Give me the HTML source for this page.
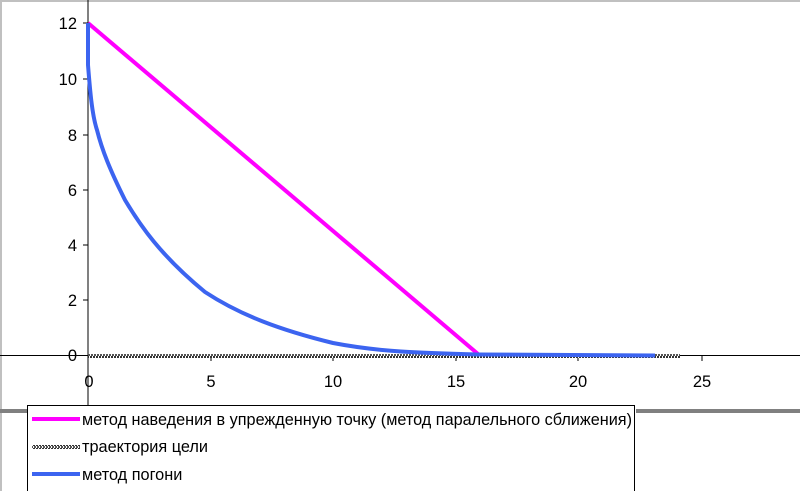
<!DOCTYPE html>
<html><head><meta charset="utf-8"><style>
body{margin:0;background:#fff}
svg{display:block;font-family:"Liberation Sans",Arial,sans-serif}
</style></head><body>
<svg width="800" height="491" viewBox="0 0 800 491">
<defs><pattern id="h" width="3" height="4" patternUnits="userSpaceOnUse"><rect width="3" height="4" fill="#fff"/><rect width="2" height="2" fill="#333"/><rect x="1" y="2" width="2" height="2" fill="#555"/></pattern></defs>
<rect x="0" y="0" width="800" height="491" fill="#fff"/>
<line x1="0" y1="1" x2="800" y2="1" stroke="#c0c0c0" stroke-width="2"/>
<line x1="1" y1="0" x2="1" y2="491" stroke="#c0c0c0" stroke-width="2"/>
<line x1="88" y1="0" x2="88" y2="408" stroke="#000" stroke-width="1"/>
<line x1="0" y1="355.5" x2="800" y2="355.5" stroke="#000" stroke-width="1"/>
<g stroke="#000">
<line x1="83" y1="23" x2="88" y2="23"/><line x1="83" y1="79" x2="88" y2="79"/><line x1="83" y1="135" x2="88" y2="135"/><line x1="83" y1="190" x2="88" y2="190"/><line x1="83" y1="245" x2="88" y2="245"/><line x1="83" y1="300" x2="88" y2="300"/>
<line x1="211" y1="355" x2="211" y2="361"/><line x1="333" y1="355" x2="333" y2="361"/><line x1="456" y1="355" x2="456" y2="361"/><line x1="578" y1="355" x2="578" y2="361"/><line x1="702" y1="355" x2="702" y2="361"/>
</g>
<g font-size="16.5" fill="#000" text-anchor="end">
<text x="77" y="29">12</text><text x="77" y="85">10</text><text x="77" y="141">8</text><text x="77" y="196">6</text><text x="77" y="251">4</text><text x="77" y="306">2</text><text x="77" y="361">0</text>
</g>
<g font-size="16.5" fill="#000" text-anchor="middle">
<text x="89" y="387">0</text><text x="211" y="387">5</text><text x="333" y="387">10</text><text x="456" y="387">15</text><text x="578" y="387">20</text><text x="702" y="387">25</text>
</g>
<rect x="88" y="354" width="592" height="4" fill="url(#h)"/>
<polyline points="88,23 478,354" fill="none" stroke="#ff00ff" stroke-width="4"/>
<path d="M88,23 L88,65 C90,90 92,115 97,130 C102,150 110,170 125,200 C140,225 160,255 205,292 C240,315 280,330 333,343 C380,352 420,353 478,354.5 L655,355.5" fill="none" stroke="#3c64f0" stroke-width="4" stroke-linejoin="round"/>
<rect x="0" y="409" width="28" height="4" fill="#808080"/>
<rect x="636" y="409" width="164" height="4" fill="#808080"/>
<rect x="27.5" y="405.5" width="607" height="90" fill="#fff" stroke="#000"/>
<line x1="32" y1="419" x2="80" y2="419" stroke="#ff00ff" stroke-width="4"/>
<rect x="32" y="445" width="48" height="4" fill="url(#h)"/>
<line x1="32" y1="474" x2="80" y2="474" stroke="#3c64f0" stroke-width="4"/>
<g font-size="16.3" fill="#000">
<text x="82" y="425" textLength="550" lengthAdjust="spacingAndGlyphs">метод наведения в упрежденную точку (метод паралельного сближения)</text>
<text x="82" y="452">траектория цели</text>
<text x="82" y="480">метод погони</text>
</g>
</svg>
</body></html>
